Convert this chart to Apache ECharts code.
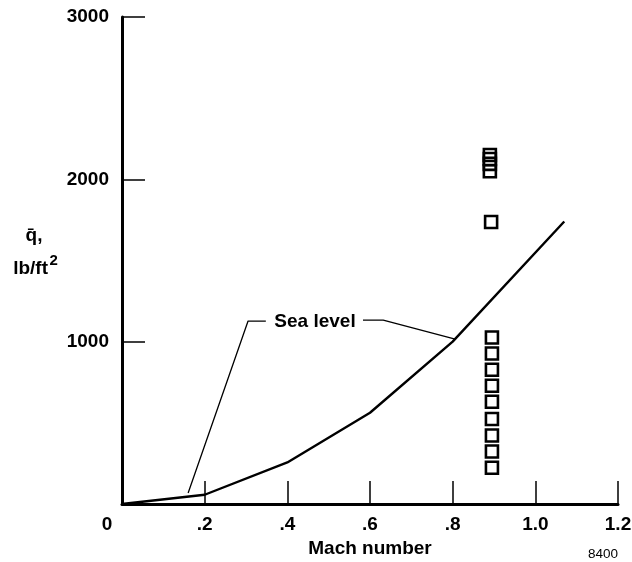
<!DOCTYPE html>
<html>
<head>
<meta charset="utf-8">
<script src="https://cdn.jsdelivr.net/npm/echarts/dist/echarts.min.js"></script>
<style>
  html, body { margin: 0; padding: 0; background: #fff; }
  #chart { width: 632px; height: 562px; }
</style>
</head>
<body>
<div id="chart"></div>
<script>
// Sea-level dynamic pressure against Mach number
var seaLevelMach = [0, 0.2, 0.4, 0.6, 0.8, 1.07];
var seaLevelQ    = [0, 57, 256, 562, 1000, 1740];

// Test points (open squares)
var pointMach = [0.89, 0.89, 0.89, 0.89, 0.893, 0.895, 0.895, 0.895, 0.895, 0.895, 0.895, 0.895, 0.895, 0.895];
var pointQ    = [2150, 2125, 2095, 2050, 1737, 1026, 927, 827, 728, 630, 524, 422, 323, 223];

// Tick labels
var xTickLabels = ['0', '.2', '.4', '.6', '.8', '1.0', '1.2'];
var yTickLabels = ['', '1000', '2000', '3000'];

// "Sea level" callout: label anchor and two leader lines (data units)
var calloutText = 'Sea level';
var calloutAt = [0.467, 1121];
var leaderLeft  = [[0.348, 1127], [0.305, 1127], [0.160, 68]];
var leaderRight = [[0.583, 1133], [0.632, 1133], [0.806, 1016]];

var FONT = '"Liberation Sans", Arial, Helvetica, sans-serif';
var INK = '#000';

function pairs(xs, ys) {
  return xs.map(function (x, i) { return [x, ys[i]]; });
}

var chart = echarts.init(document.getElementById('chart'), null, { renderer: 'canvas' });

var option = {
  backgroundColor: '#fff',
  animation: false,
  grid: { left: 122, right: 14, top: 17, bottom: 58, containLabel: false, outerBoundsMode: 'none' },
  xAxis: {
    type: 'value', min: 0, max: 1.2, interval: 0.2,
    name: 'Mach number', nameLocation: 'middle', nameGap: 31,
    nameTextStyle: { fontFamily: FONT, fontWeight: 'bold', fontSize: 19, color: INK },
    axisLine: { show: true, onZero: false, lineStyle: { color: INK, width: 3 } },
    axisTick: { show: true, inside: true, length: 23, lineStyle: { color: INK, width: 1.5 } },
    splitLine: { show: false },
    axisLabel: {
      margin: 11, fontFamily: FONT, fontWeight: 'bold', fontSize: 19, color: INK,
      showMinLabel: true, showMaxLabel: true, hideOverlap: false,
      formatter: function (v) {
        var i = Math.round(v / 0.2);
        return i === 0 ? '{z|' + xTickLabels[0] + '}' : xTickLabels[i];
      },
      rich: { z: { fontFamily: FONT, fontWeight: 'bold', fontSize: 19, color: INK, padding: [0, 30, 0, 0] } }
    }
  },
  yAxis: {
    type: 'value', min: 0, max: 3000, interval: 1000,
    axisLine: { show: true, onZero: false, lineStyle: { color: INK, width: 3 } },
    axisTick: { show: true, inside: true, length: 23, lineStyle: { color: INK, width: 1.5 } },
    splitLine: { show: false },
    axisLabel: {
      margin: 13, fontFamily: FONT, fontWeight: 'bold', fontSize: 19, color: INK,
      showMinLabel: true, showMaxLabel: true, hideOverlap: false,
      formatter: function (v) { return yTickLabels[Math.round(v / 1000)]; }
    }
  },
  series: [
    {
      type: 'line', data: pairs(seaLevelMach, seaLevelQ),
      showSymbol: false, symbol: 'none', silent: true,
      lineStyle: { color: INK, width: 2.4 }, z: 3
    },
    {
      type: 'line', data: leaderLeft, showSymbol: false, symbol: 'none', silent: true,
      lineStyle: { color: INK, width: 1.3 }, z: 3
    },
    {
      type: 'line', data: leaderRight, showSymbol: false, symbol: 'none', silent: true,
      lineStyle: { color: INK, width: 1.3 }, z: 3
    },
    {
      type: 'scatter', data: pairs(pointMach, pointQ),
      symbol: 'rect', symbolSize: 12, silent: true, z: 5,
      itemStyle: { color: 'rgba(0,0,0,0)', borderColor: INK, borderWidth: 2.6, opacity: 1 }
    }
  ],
  graphic: [
    {
      type: 'text', x: 34, y: 236,
      style: { text: 'q\u0304,', font: 'bold 19px ' + FONT, fill: INK, align: 'center', verticalAlign: 'middle' }
    },
    {
      type: 'text', x: 48, y: 268.5,
      style: { text: 'lb/ft', font: 'bold 19px ' + FONT, fill: INK, align: 'right', verticalAlign: 'middle' }
    },
    {
      type: 'text', x: 49.5, y: 261,
      style: { text: '2', font: 'bold 15px ' + FONT, fill: INK, align: 'left', verticalAlign: 'middle' }
    },
    {
      type: 'text', x: 603, y: 554,
      style: { text: '8400', font: '13.5px ' + FONT, fill: INK, align: 'center', verticalAlign: 'middle' }
    }
  ]
};

chart.setOption(option);

// Place the callout text at its data position once the axes exist
var calloutPx = chart.convertToPixel({ gridIndex: 0 }, calloutAt);
chart.setOption({
  graphic: [{
    id: 'callout', type: 'text', x: calloutPx[0], y: calloutPx[1], z: 10,
    style: { text: calloutText, font: 'bold 19px ' + FONT, fill: INK, align: 'center', verticalAlign: 'middle' }
  }]
});
</script>
</body>
</html>
